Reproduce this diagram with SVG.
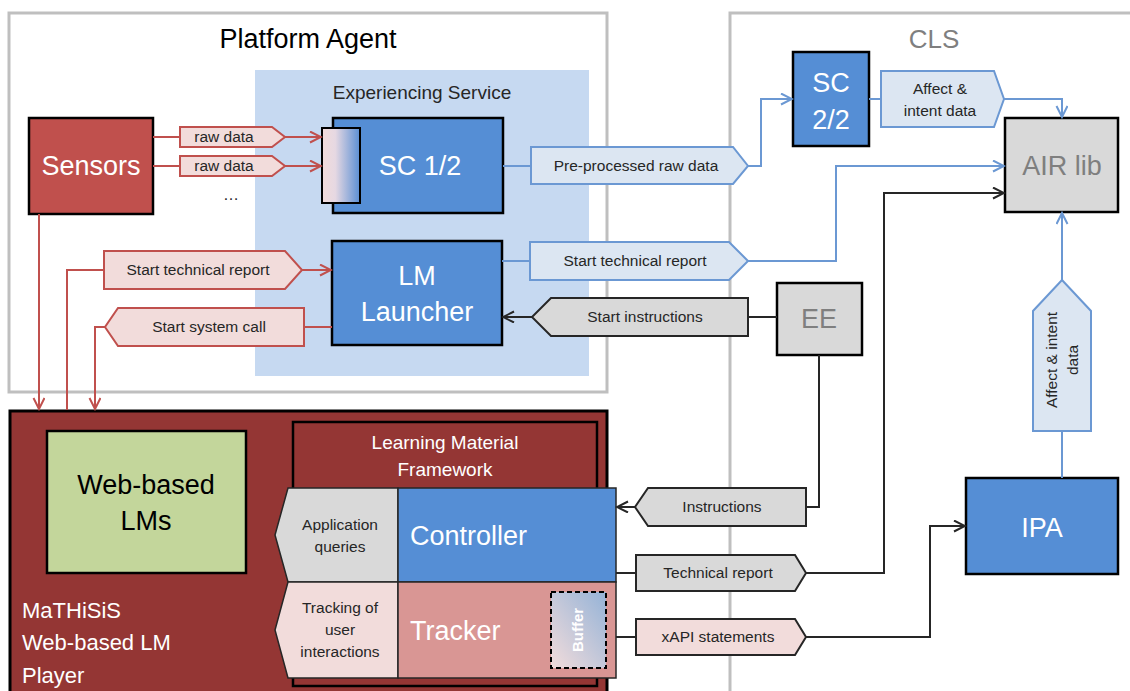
<svg xmlns="http://www.w3.org/2000/svg" width="1130" height="691" viewBox="0 0 1130 691">
<defs>
<style>
text{font-family:"Liberation Sans",Arial,sans-serif}
.frame{fill:#fff;stroke:#bfbfbf;stroke-width:3}
.big{font-size:27px;fill:#fff;text-anchor:middle}
.sm{font-size:15.5px;fill:#262626;text-anchor:middle}
.box{stroke:#000;stroke-width:2.5}
.rl{fill:none;stroke:#c0504d;stroke-width:2}
.bl{fill:none;stroke:#6b98d3;stroke-width:2}
.kl{fill:none;stroke:#262626;stroke-width:2}
.rlab{fill:#f2dcdb;stroke:#c0504d;stroke-width:2}
.blab{fill:#dce6f2;stroke:#6b98d3;stroke-width:2}
.klab{fill:#d9d9d9;stroke:#262626;stroke-width:2}
</style>
<marker id="ar" markerWidth="14" markerHeight="14" refX="12" refY="6" orient="auto" markerUnits="userSpaceOnUse"><path d="M1,0.5 L12,6 L1,11.5" fill="none" stroke="#c0504d" stroke-width="2"/></marker>
<marker id="ab" markerWidth="14" markerHeight="14" refX="12" refY="6" orient="auto" markerUnits="userSpaceOnUse"><path d="M1,0.5 L12,6 L1,11.5" fill="none" stroke="#6b98d3" stroke-width="2"/></marker>
<marker id="ak" markerWidth="14" markerHeight="14" refX="12" refY="6" orient="auto" markerUnits="userSpaceOnUse"><path d="M1,0.5 L12,6 L1,11.5" fill="none" stroke="#262626" stroke-width="2"/></marker>
<linearGradient id="gSC" x1="0" y1="0" x2="1" y2="0"><stop offset="0" stop-color="#f2dcdb"/><stop offset="0.35" stop-color="#e6d8e2"/><stop offset="1" stop-color="#5a8fd4"/></linearGradient>
<linearGradient id="gBuf" x1="0" y1="1" x2="1" y2="0"><stop offset="0" stop-color="#f2dcdb"/><stop offset="1" stop-color="#95b3d7"/></linearGradient>
</defs>

<g id="platform-agent">
<rect class="frame" x="9" y="13" width="598" height="379"/>
<text x="308" y="48" style="font-size:27px;fill:#000;text-anchor:middle">Platform Agent</text>
</g>
<g id="cls">
<rect class="frame" x="730" y="13" width="420" height="700"/>
<text x="934" y="48" style="font-size:26px;fill:#7f7f7f;text-anchor:middle">CLS</text>
</g>
<g id="experiencing-service">
<rect x="255" y="70" width="334" height="306" fill="#c6d9f1"/>
<text x="422" y="99" style="font-size:19px;fill:#262626;text-anchor:middle">Experiencing Service</text>
</g>

<g id="mathisis-player">
<rect x="10" y="411" width="597" height="300" fill="#943634" stroke="#000" stroke-width="3"/>
<text x="22" y="618" style="font-size:22px;fill:#fff">MaTHiSiS</text>
<text x="22" y="650" style="font-size:22px;fill:#fff">Web-based LM</text>
<text x="22" y="683" style="font-size:22px;fill:#fff">Player</text>
</g>
<g id="web-lms">
<rect class="box" x="47" y="431" width="199" height="142" fill="#c3d69b"/>
<text x="146" y="494" style="font-size:27px;fill:#000;text-anchor:middle">Web-based</text>
<text x="146" y="530" style="font-size:27px;fill:#000;text-anchor:middle">LMs</text>
</g>
<g id="lmf">
<rect class="box" x="293" y="422" width="304" height="264" fill="#943634"/>
<text x="445" y="449" style="font-size:19px;fill:#fff;text-anchor:middle">Learning Material</text>
<text x="445" y="476" style="font-size:19px;fill:#fff;text-anchor:middle">Framework</text>
</g>
<g id="app-queries">
<path d="M398,488 H288 L275,535 L288,582 H398 Z" fill="#d9d9d9" stroke="#262626" stroke-width="1.5"/>
<text class="sm" x="340" y="530">Application</text>
<text class="sm" x="340" y="552">queries</text>
</g>
<g id="tracking">
<path d="M398,582 H288 L275,630 L288,678 H398 Z" fill="#f2dcdb" stroke="#262626" stroke-width="1.5"/>
<text class="sm" x="340" y="613">Tracking of</text>
<text class="sm" x="340" y="635">user</text>
<text class="sm" x="340" y="657">interactions</text>
</g>
<g id="controller">
<rect x="398" y="488" width="218" height="94" fill="#558ed5" stroke="#262626" stroke-width="1.5"/>
<text x="410" y="545" style="font-size:27px;fill:#fff">Controller</text>
</g>
<g id="tracker">
<rect x="398" y="582" width="218" height="96" fill="#d99694" stroke="#262626" stroke-width="1.5"/>
<text x="410" y="640" style="font-size:27px;fill:#fff">Tracker</text>
</g>
<g id="buffer">
<rect x="551" y="592" width="55" height="76" fill="url(#gBuf)" stroke="#000" stroke-width="2" stroke-dasharray="5,3"/>
<text x="578" y="630" transform="rotate(-90 578 630)" dy="5" style="font-size:15px;font-weight:bold;fill:#fff;text-anchor:middle">Buffer</text>
</g>

<g id="sensors">
<rect class="box" x="29" y="118" width="124" height="96" fill="#c0504d"/>
<text class="big" x="91" y="175">Sensors</text>
</g>
<g id="sc12">
<rect class="box" x="333" y="118" width="170" height="95" fill="#558ed5"/>
<rect x="322" y="128" width="38" height="75" fill="url(#gSC)" stroke="#000" stroke-width="2"/>
<text class="big" x="420" y="175">SC 1/2</text>
</g>
<g id="lm-launcher">
<rect class="box" x="332" y="241" width="170" height="104" fill="#558ed5"/>
<text class="big" x="417" y="285">LM</text>
<text class="big" x="417" y="321">Launcher</text>
</g>
<g id="sc22">
<rect class="box" x="793" y="52" width="76" height="94" fill="#558ed5"/>
<text class="big" x="831" y="92">SC</text>
<text class="big" x="831" y="129">2/2</text>
</g>
<g id="air-lib">
<rect class="box" x="1005" y="118" width="113" height="94" fill="#d9d9d9"/>
<text x="1062" y="175" style="font-size:27px;fill:#7f7f7f;text-anchor:middle">AIR lib</text>
</g>
<g id="ee">
<rect class="box" x="777" y="283" width="85" height="72" fill="#d9d9d9"/>
<text x="819" y="328" style="font-size:27px;fill:#7f7f7f;text-anchor:middle">EE</text>
</g>
<g id="ipa">
<rect class="box" x="966" y="478" width="152" height="96" fill="#558ed5"/>
<text class="big" x="1042" y="537">IPA</text>
</g>

<g id="connectors">
<!-- red -->
<path class="rl" d="M153,137 H180"/>
<path class="rl" d="M285,137 H321" marker-end="url(#ar)"/>
<path class="rl" d="M153,166 H180"/>
<path class="rl" d="M285,166 H321" marker-end="url(#ar)"/>
<path class="rl" d="M39,214 V409" marker-end="url(#ar)"/>
<path class="rl" d="M67,410 V270 H104"/>
<path class="rl" d="M302,270 H331" marker-end="url(#ar)"/>
<path class="rl" d="M332,327 H304"/>
<path class="rl" d="M105,327 H95 V409" marker-end="url(#ar)"/>
<!-- blue -->
<path class="bl" d="M503,166 H531"/>
<path class="bl" d="M748,166 H761 V99 H792" marker-end="url(#ab)"/>
<path class="bl" d="M869,99 H881"/>
<path class="bl" d="M1004,99 H1062 V117" marker-end="url(#ab)"/>
<path class="bl" d="M502,261 H530"/>
<path class="bl" d="M748,261 H836 V166 H1004" marker-end="url(#ab)"/>
<path class="bl" d="M1062,478 V431"/>
<path class="bl" d="M1062,280 V213" marker-end="url(#ab)"/>
<!-- black -->
<path class="kl" d="M748,317 H777"/>
<path class="kl" d="M532,317 H503" marker-end="url(#ak)"/>
<path class="kl" d="M819,355 V507 H806"/>
<path class="kl" d="M635,507 H617" marker-end="url(#ak)"/>
<path class="kl" d="M616,573 H636"/>
<path class="kl" d="M806,573 H884 V193 H1004" marker-end="url(#ak)"/>
<path class="kl" d="M616,637 H636"/>
<path class="kl" d="M806,637 H930 V526 H965" marker-end="url(#ak)"/>

<!-- labels -->
<path class="rlab" d="M180,127 H272 L285,137 L272,147 H180 Z"/>
<text class="sm" x="224" y="142">raw data</text>
<path class="rlab" d="M180,156 H272 L285,166 L272,176 H180 Z"/>
<text class="sm" x="224" y="171">raw data</text>
<text x="231" y="200" style="font-size:16px;fill:#262626;text-anchor:middle">…</text>
<path class="rlab" d="M104,251 H285 L302,270 L285,289 H104 Z"/>
<text class="sm" x="198" y="275">Start technical report</text>
<path class="rlab" d="M304,308 H118 L105,327 L118,346 H304 Z"/>
<text class="sm" x="209" y="332">Start system call</text>

<path class="blab" d="M531,147 H733 L748,166 L733,184 H531 Z"/>
<text class="sm" x="636" y="171">Pre-processed raw data</text>
<path class="blab" d="M881,71 H994 L1004,99 L994,127 H881 Z"/>
<text class="sm" x="940" y="94">Affect &amp;</text>
<text class="sm" x="940" y="116">intent data</text>
<path class="blab" d="M530,242 H729 L748,261 L729,280 H530 Z"/>
<text class="sm" x="635" y="266">Start technical report</text>
<path class="blab" d="M1033,431 V311 L1062,280 L1091,311 V431 Z"/>
<text class="sm" transform="rotate(-90 1052 360)" x="1052" y="360" dy="5">Affect &amp; intent</text>
<text class="sm" transform="rotate(-90 1073 360)" x="1073" y="360" dy="5">data</text>

<path class="klab" d="M748,298 H551 L532,317 L551,336 H748 Z"/>
<text class="sm" x="645" y="322">Start instructions</text>
<path class="klab" d="M806,488 H648 L635,507 L648,526 H806 Z"/>
<text class="sm" x="722" y="512">Instructions</text>
<path class="klab" d="M636,555 H795 L806,573 L795,591 H636 Z"/>
<text class="sm" x="718" y="578">Technical report</text>
<path class="rlab" d="M636,619 H795 L806,637 L795,655 H636 Z" style="stroke:#262626"/>
<text class="sm" x="718" y="642">xAPI statements</text>
</g>
</svg>
